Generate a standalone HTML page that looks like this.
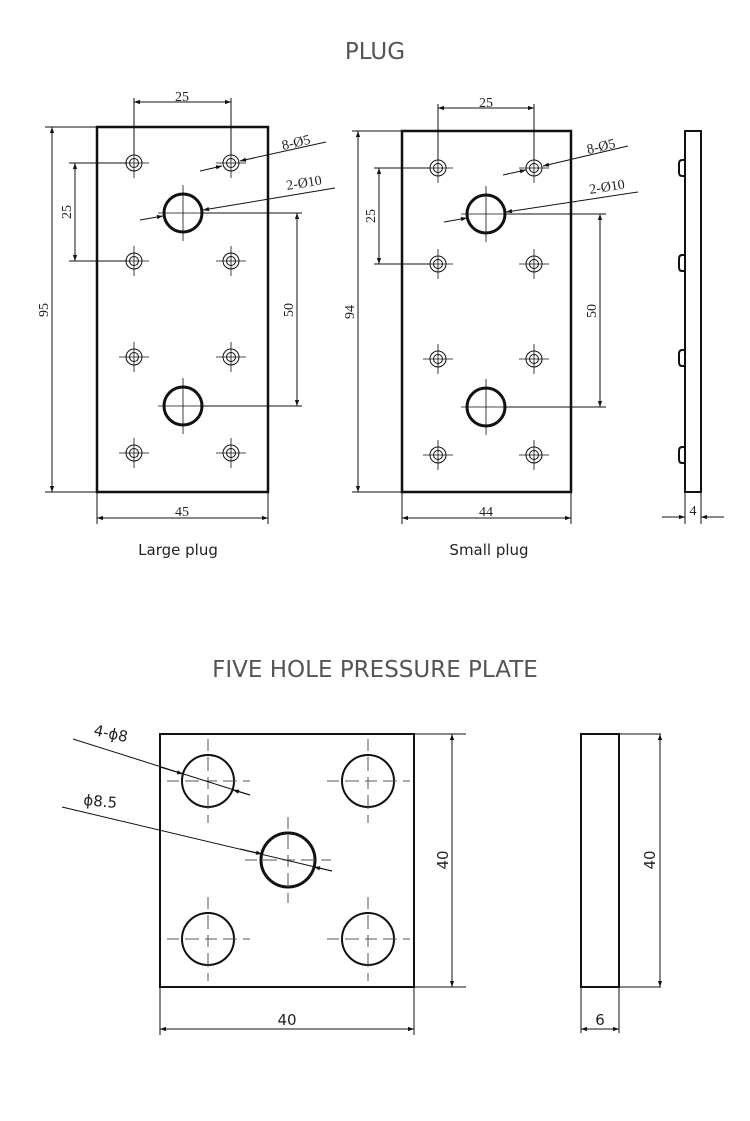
<!DOCTYPE html>
<html><head><meta charset="utf-8"><style>
html,body{margin:0;padding:0;background:#fff;}
svg{display:block}
.t{font-family:"Liberation Serif",serif;font-size:14px;fill:#222}
.s{font-family:"DejaVu Sans","Liberation Sans",sans-serif;fill:#222}
</style></head><body>
<svg width="750" height="1121" viewBox="0 0 750 1121" xmlns="http://www.w3.org/2000/svg">
<defs>
<marker id="a" viewBox="0 0 10 10" refX="10" refY="5" markerWidth="9" markerHeight="6" orient="auto-start-reverse" markerUnits="userSpaceOnUse"><path d="M0,1.5 L10,5 L0,8.5z" fill="#111"/></marker>
</defs>
<text x="375" y="59" text-anchor="middle" class="s" font-size="23" style="fill:#555">PLUG</text>
<text x="375" y="677" text-anchor="middle" class="s" font-size="23" style="fill:#555">FIVE HOLE PRESSURE PLATE</text>

<!-- LARGE PLUG -->
<g stroke="#111" fill="none" stroke-width="1">
<rect x="97" y="127" width="171" height="365" stroke-width="2.5"/>
<g transform="translate(134,163)"><circle r="8"/><circle r="4.5"/><path d="M-15,0H15M0,-15V15" stroke-width="0.8"/></g>
<g transform="translate(231,163)"><circle r="8"/><circle r="4.5"/><path d="M-15,0H15M0,-15V15" stroke-width="0.8"/></g>
<g transform="translate(134,261)"><circle r="8"/><circle r="4.5"/><path d="M-15,0H15M0,-15V15" stroke-width="0.8"/></g>
<g transform="translate(231,261)"><circle r="8"/><circle r="4.5"/><path d="M-15,0H15M0,-15V15" stroke-width="0.8"/></g>
<g transform="translate(134,357)"><circle r="8"/><circle r="4.5"/><path d="M-15,0H15M0,-15V15" stroke-width="0.8"/></g>
<g transform="translate(231,357)"><circle r="8"/><circle r="4.5"/><path d="M-15,0H15M0,-15V15" stroke-width="0.8"/></g>
<g transform="translate(134,453)"><circle r="8"/><circle r="4.5"/><path d="M-15,0H15M0,-15V15" stroke-width="0.8"/></g>
<g transform="translate(231,453)"><circle r="8"/><circle r="4.5"/><path d="M-15,0H15M0,-15V15" stroke-width="0.8"/></g>
<g transform="translate(183,213)"><circle r="19" stroke-width="3"/><path d="M-25,0H25M0,-28V28" stroke-width="0.8"/></g>
<g transform="translate(183,406)"><circle r="19" stroke-width="3"/><path d="M-25,0H25M0,-28V28" stroke-width="0.8"/></g>
<path d="M134,98V155M231,98V155"/>
<path d="M134,102H231" marker-start="url(#a)" marker-end="url(#a)"/>
<path d="M45,127H97M45,492H97"/>
<path d="M52,127V492" marker-start="url(#a)" marker-end="url(#a)"/>
<path d="M69,163H127M69,261H127"/>
<path d="M75,163V261" marker-start="url(#a)" marker-end="url(#a)"/>
<path d="M200,213H302M200,406H302"/>
<path d="M297,213V406" marker-start="url(#a)" marker-end="url(#a)"/>
<path d="M97,492V524M268,492V524"/>
<path d="M97,518H268" marker-start="url(#a)" marker-end="url(#a)"/>
<path d="M200,171L222,166" marker-end="url(#a)"/>
<path d="M326,142L240,161" marker-end="url(#a)"/>
<path d="M140,220L163,216" marker-end="url(#a)"/>
<path d="M335,188L203,210" marker-end="url(#a)"/>
</g>
<text class="t" x="182" y="101" text-anchor="middle">25</text>
<text class="t" transform="translate(48,310) rotate(-90)" text-anchor="middle">95</text>
<text class="t" transform="translate(71,212) rotate(-90)" text-anchor="middle">25</text>
<text class="t" transform="translate(293,310) rotate(-90)" text-anchor="middle">50</text>
<text class="t" x="182" y="516" text-anchor="middle">45</text>
<text class="t" transform="translate(283,150) rotate(-13)">8-Ø5</text>
<text class="t" transform="translate(287,190) rotate(-9)">2-Ø10</text>
<text class="s" x="178" y="555" text-anchor="middle" font-size="15">Large plug</text>

<!-- SMALL PLUG -->
<g stroke="#111" fill="none" stroke-width="1">
<rect x="402" y="131" width="169" height="361" stroke-width="2.5"/>
<g transform="translate(438,168)"><circle r="8"/><circle r="4.5"/><path d="M-15,0H15M0,-15V15" stroke-width="0.8"/></g>
<g transform="translate(534,168)"><circle r="8"/><circle r="4.5"/><path d="M-15,0H15M0,-15V15" stroke-width="0.8"/></g>
<g transform="translate(438,264)"><circle r="8"/><circle r="4.5"/><path d="M-15,0H15M0,-15V15" stroke-width="0.8"/></g>
<g transform="translate(534,264)"><circle r="8"/><circle r="4.5"/><path d="M-15,0H15M0,-15V15" stroke-width="0.8"/></g>
<g transform="translate(438,359)"><circle r="8"/><circle r="4.5"/><path d="M-15,0H15M0,-15V15" stroke-width="0.8"/></g>
<g transform="translate(534,359)"><circle r="8"/><circle r="4.5"/><path d="M-15,0H15M0,-15V15" stroke-width="0.8"/></g>
<g transform="translate(438,455)"><circle r="8"/><circle r="4.5"/><path d="M-15,0H15M0,-15V15" stroke-width="0.8"/></g>
<g transform="translate(534,455)"><circle r="8"/><circle r="4.5"/><path d="M-15,0H15M0,-15V15" stroke-width="0.8"/></g>
<g transform="translate(486,214)"><circle r="19" stroke-width="3"/><path d="M-25,0H25M0,-28V28" stroke-width="0.8"/></g>
<g transform="translate(486,407)"><circle r="19" stroke-width="3"/><path d="M-25,0H25M0,-28V28" stroke-width="0.8"/></g>
<path d="M438,104V160M534,104V160"/>
<path d="M438,108H534" marker-start="url(#a)" marker-end="url(#a)"/>
<path d="M352,131H402M352,492H402"/>
<path d="M358,131V492" marker-start="url(#a)" marker-end="url(#a)"/>
<path d="M374,168H430M374,264H430"/>
<path d="M379,168V264" marker-start="url(#a)" marker-end="url(#a)"/>
<path d="M504,214H606M504,407H606"/>
<path d="M600,214V407" marker-start="url(#a)" marker-end="url(#a)"/>
<path d="M402,492V524M571,492V524"/>
<path d="M402,518H571" marker-start="url(#a)" marker-end="url(#a)"/>
<path d="M503,175L526,170" marker-end="url(#a)"/>
<path d="M628,146L543,166" marker-end="url(#a)"/>
<path d="M444,222L467,218" marker-end="url(#a)"/>
<path d="M638,192L506,212" marker-end="url(#a)"/>
</g>
<text class="t" x="486" y="107" text-anchor="middle">25</text>
<text class="t" transform="translate(354,312) rotate(-90)" text-anchor="middle">94</text>
<text class="t" transform="translate(375,216) rotate(-90)" text-anchor="middle">25</text>
<text class="t" transform="translate(596,311) rotate(-90)" text-anchor="middle">50</text>
<text class="t" x="486" y="516" text-anchor="middle">44</text>
<text class="t" transform="translate(588,154) rotate(-13)">8-Ø5</text>
<text class="t" transform="translate(590,194) rotate(-9)">2-Ø10</text>
<text class="s" x="489" y="555" text-anchor="middle" font-size="15">Small plug</text>

<!-- SIDE VIEW -->
<g stroke="#111" fill="none" stroke-width="2">
<rect x="685" y="131" width="16" height="361"/>
<path d="M685,160H682Q679,160 679,164V172Q679,176 682,176H685"/>
<path d="M685,255H682Q679,255 679,259V267Q679,271 682,271H685"/>
<path d="M685,350H682Q679,350 679,354V362Q679,366 682,366H685"/>
<path d="M685,447H682Q679,447 679,451V459Q679,463 682,463H685"/>
</g>
<g stroke="#111" fill="none" stroke-width="1">
<path d="M685,492V524M701,492V524"/>
<path d="M662,517H685" marker-end="url(#a)"/>
<path d="M724,517H701" marker-end="url(#a)"/>
</g>
<text class="t" x="693" y="515" text-anchor="middle">4</text>

<!-- PRESSURE PLATE -->
<g stroke="#111" fill="none">
<rect x="160" y="734" width="254" height="253" stroke-width="2"/>
<g stroke-width="2"><circle cx="208" cy="781" r="26"/><circle cx="368" cy="781" r="26"/><circle cx="208" cy="939" r="26"/><circle cx="368" cy="939" r="26"/></g>
<circle cx="288" cy="860" r="27" stroke-width="3"/>
<g stroke="#555" stroke-width="1" stroke-dasharray="12,6,14,6">
<path d="M167,781H250M208,739V823M327,781H410M368,739V823M167,939H250M208,897V981M327,939H410M368,897V981M245,860H331M288,817V903"/>
</g>
<g stroke-width="1">
<path d="M73,739L250,795"/>
<path d="M160,767L183,774" marker-end="url(#a)"/>
<path d="M250,795L233,790" marker-end="url(#a)"/>
<path d="M62,807L332,871"/>
<path d="M240,849L262,854" marker-end="url(#a)"/>
<path d="M332,871L314,867" marker-end="url(#a)"/>
<path d="M414,734H466M414,987H466"/>
<path d="M452,734V987" marker-start="url(#a)" marker-end="url(#a)"/>
<path d="M160,987V1035M414,987V1035"/>
<path d="M160,1029H414" marker-start="url(#a)" marker-end="url(#a)"/>
</g>
<rect x="581" y="734" width="38" height="253" stroke-width="2"/>
<g stroke-width="1">
<path d="M619,734H661M619,987H661"/>
<path d="M660,734V987" marker-start="url(#a)" marker-end="url(#a)"/>
<path d="M581,987V1033M619,987V1033"/>
<path d="M581,1029H619" marker-start="url(#a)" marker-end="url(#a)"/>
</g>
</g>
<text class="s" font-size="15" transform="translate(93,735) rotate(12)">4-ϕ8</text>
<text class="s" font-size="15" transform="translate(83,805) rotate(5)">ϕ8.5</text>
<text class="s" font-size="15" transform="translate(448,860) rotate(-90)" text-anchor="middle">40</text>
<text class="s" font-size="15" transform="translate(655,860) rotate(-90)" text-anchor="middle">40</text>
<text class="s" font-size="15" x="287" y="1025" text-anchor="middle">40</text>
<text class="s" font-size="15" x="600" y="1025" text-anchor="middle">6</text>
</svg>
</body></html>
